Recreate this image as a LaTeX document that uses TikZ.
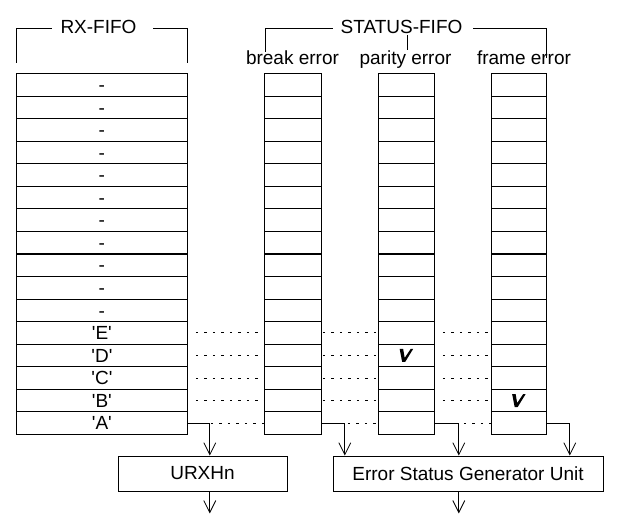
\documentclass[tikz,border=0pt]{standalone}
\usepackage{fontspec}
\setmainfont{Liberation Sans}
\usetikzlibrary{arrows.meta,calc}
\newcommand\myq[1]{\textquotesingle#1\textquotesingle}
\newcommand\drawchk[1]{\fill (#1) ++(-6.5,-6.5) -- ++(3.5,0) -- ++(1.5,9) -- ++(6,-9) -- ++(2.5,0) -- ++(-8,13) -- ++(-3,0) -- cycle;}
\begin{document}
\begin{tikzpicture}[x=1bp,y=-1bp,
  line width=0.8bp,
  every node/.style={font=\fontsize{19bp}{22bp}\selectfont},
  cell/.style={draw, rectangle, inner sep=0pt, minimum height=22.56bp, text height=13.6bp, text depth=0pt, anchor=north west},
  dotl/.style={dash pattern=on 2.5bp off 6bp},
  arr/.style={-{Straight Barb[length=12bp,width=12bp]}},
  box/.style={draw, rectangle, inner sep=0pt, minimum height=35bp},
  lab/.style={anchor=base, inner sep=0pt}
]
\useasboundingbox (0,0) rectangle (628,527);
% cells
\foreach \i/\t [evaluate=\i as \y using 73+(\i-1)*22.5625] in {1/-,2/-,3/-,4/-,5/-,6/-,7/-,8/-,9/-,10/-,11/-,12/\myq{E},13/\myq{D},14/\myq{C},15/\myq{B},16/\myq{A}} {
  \node[cell, minimum width=171bp] (rx\i) at (16,\y) {\t};
  \node[cell, minimum width=57bp] (br\i) at (264,\y) {};
  \node[cell, minimum width=56.5bp] (pa\i) at (377.5,\y) {};
  \node[cell, minimum width=55.5bp] (fr\i) at (490.5,\y) {};
}
% labels
\node[lab] (rxl) at (98.5,34) {RX-FIFO};
\node[lab] (stl) at (401.5,34) {STATUS-FIFO};
\node[lab] (brl) at (292.5,65) {break error};
\node[lab] (pal) at (405.5,65) {parity error};
\node[lab] (frl) at (524,65) {frame error};
% brackets
\draw (16,63) -- (16,28) -- (52,28);
\draw (153,28) -- (187,28) -- (187,63);
\draw (265,52) -- (265,28) -- (333,28);
\draw (473,28) -- (546,28) -- (546,58);
\draw (407,35) -- (407,50);
% boxes
\node[box, minimum width=169bp] (urx) at (202.5,473.5) {URXHn};
\node[box, minimum width=270bp] (err) at (468,473.5) {Error Status Generator Unit};
% dotted row links
\foreach \i in {12,...,15} {
  \draw[dotl] ([xshift=8bp]rx\i.east) -- (br\i.west);
  \draw[dotl] ([xshift=1bp]br\i.east) -- (pa\i.west);
  \draw[dotl] ([xshift=8bp]pa\i.east) -- (fr\i.west);
}
% row A arrows
\draw[arr] (rx16.east) -- ++(22,0) coordinate (ka) -- (ka |- urx.north);
\draw[arr] (br16.east) -- ++(23,0) coordinate (kb) -- (kb |- err.north);
\draw[arr] (pa16.east) -- ++(24,0) coordinate (kc) -- (kc |- err.north);
\draw[arr] (fr16.east) -- ++(23,0) coordinate (kd) -- (kd |- err.north);
\draw[dotl] ([xshift=1bp]ka) -- (br16.west);
\draw[dotl] ([xshift=3bp]kb) -- (pa16.west);
\draw[dotl] ([xshift=5bp]kc) -- (fr16.west);
% outputs
\draw[arr] (urx.south -| rx16.east) -- ++(22,0) -- ++(0,22);
\draw[arr] (err.south -| pa16.east) -- ++(24,0) -- ++(0,22);
% check marks
\drawchk{pa13.center}
\drawchk{fr15.center}
\end{tikzpicture}
\end{document}
